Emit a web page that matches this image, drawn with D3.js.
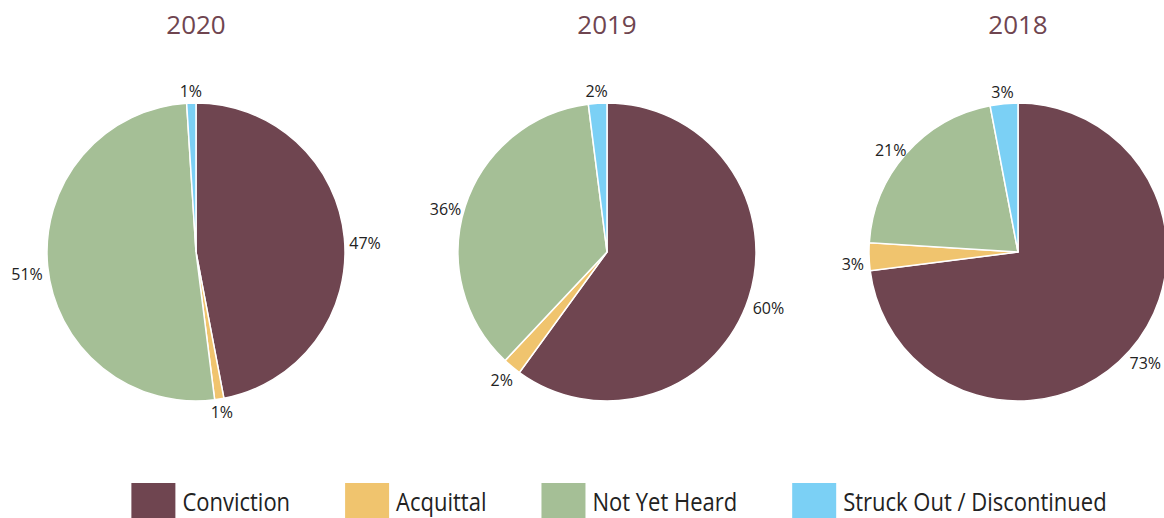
<!DOCTYPE html>
<html>
<head>
<meta charset="utf-8">
<script src="https://cdn.jsdelivr.net/npm/d3@7"></script>
<style>
  body { margin: 0; background: #fff; }
  svg { display: block; }
</style>
</head>
<body>
<script>
// Outcome shares by year (percent)
var years = ["2020", "2019", "2018"]
var categories = ["Conviction", "Acquittal", "Not Yet Heard", "Struck Out / Discontinued"]
var conviction = [47, 60, 73]
var acquittal = [1, 2, 3]
var notYetHeard = [51, 36, 21]
var struckOut = [1, 2, 3]
var colors = ["#6f4550", "#f0c46e", "#a5bf96", "#7bd0f5"]

function main() {
    var width = 1164
    var height = 518
    var radius = 149
    var cy = 252

    var svg = d3.select('body').append('svg')
        .attr("width", width)
        .attr("height", height)

    // Pie centres across the page
    var xScale = d3.scalePoint()
        .domain(years)
        .range([196, 1018])

    var color = d3.scaleOrdinal()
        .domain(categories)
        .range(colors)

    var pie = d3.pie()
        .sort(null)
        .value(function(d) { return d.value })

    var arc = d3.arc()
        .innerRadius(0)
        .outerRadius(radius)

    years.forEach(function(year, i) {
        var rows = [
            {cat: categories[0], value: conviction[i]},
            {cat: categories[1], value: acquittal[i]},
            {cat: categories[2], value: notYetHeard[i]},
            {cat: categories[3], value: struckOut[i]}
        ]
        var g = svg.append('g')
            .attr('transform', 'translate(' + xScale(year) + ',' + cy + ')')

        // Title
        g.append('text')
            .attr('x', 0)
            .attr('y', 34 - cy)
            .attr('text-anchor', 'middle')
            .style('font-family', '"Open Sans", sans-serif')
            .style('font-size', '26px')
            .style('fill', '#6f4550')
            .text(year)

        var slices = pie(rows)

        g.selectAll('path')
            .data(slices)
            .enter().append('path')
            .attr('d', arc)
            .attr('fill', function(d) { return color(d.data.cat) })
            .attr('stroke', '#fff')
            .attr('stroke-width', 1.5)

        // Labels just outside the rim
        g.selectAll('text.lbl')
            .data(slices)
            .enter().append('text')
            .attr('class', 'lbl')
            .style('font-family', '"Open Sans", sans-serif')
            .style('font-size', '16px')
            .style('fill', '#222')
            .attr('text-anchor', 'middle')
            .attr('dy', '0.35em')
            .text(function(d) { return d.data.value + '%' })
            .each(function(d) {
                var a = (d.startAngle + d.endAngle) / 2
                var s = Math.sin(a), c = Math.cos(a)
                var w = this.getComputedTextLength()
                var x = (radius + 5) * s + s * (w / 2)
                var y = -(radius + 5) * c - c * 7 + 7 * Math.abs(s)
                d3.select(this).attr('x', x).attr('y', y)
            })
    })

    // Legend
    var legend = svg.append('g')
    var lx = 0
    var squeeze = 0.88
    categories.forEach(function(cat) {
        var item = legend.append('g').attr('transform', 'translate(' + lx + ',0)')
        item.append('rect')
            .attr('x', 0)
            .attr('y', 483)
            .attr('width', 44)
            .attr('height', 35)
            .attr('fill', color(cat))
        var t = item.append('text')
            .attr('transform', 'translate(51,511) scale(' + squeeze + ',1)')
            .style('font-family', '"Open Sans", sans-serif')
            .style('font-size', '25px')
            .style('fill', '#222')
            .text(cat)
        lx += 51 + t.node().getComputedTextLength() * squeeze + 55
    })
    var total = lx - 55
    legend.attr('transform', 'translate(' + (619 - total / 2) + ',0)')
}

main()
</script>
</body>
</html>
